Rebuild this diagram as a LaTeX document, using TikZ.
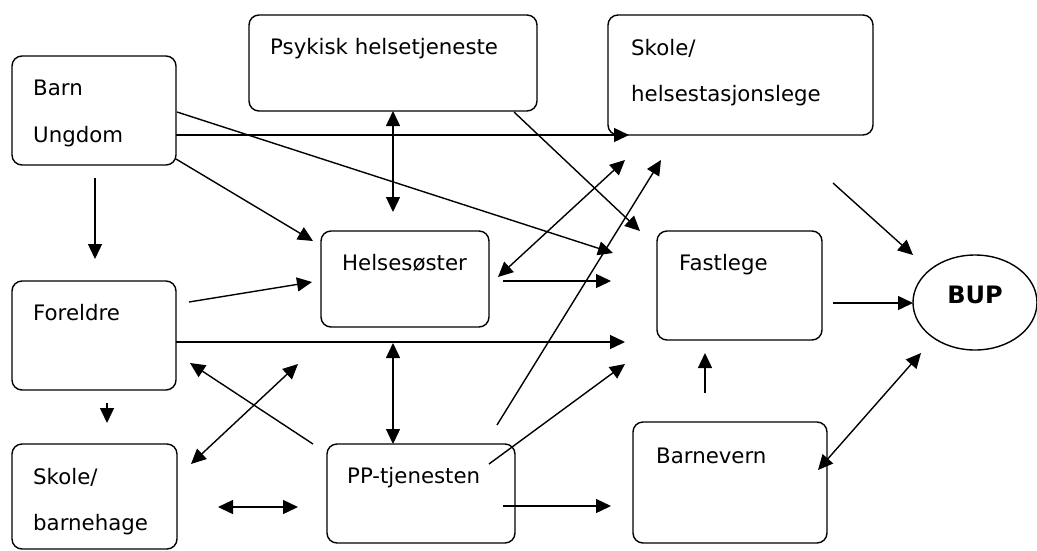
\documentclass[tikz,border=0pt]{standalone}
\usepackage{fontspec}
\setmainfont{DejaVu Sans}
\usetikzlibrary{arrows.meta,shapes.geometric}
\tikzset{
  box/.style={draw, line width=1.4pt, rounded corners=10pt, inner sep=0pt},
  lbl/.style={anchor=base west, inner sep=0pt, font=\fontsize{21.3}{25}\selectfont},
  conn/.style={line width=1.4pt, -{Triangle[length=15pt,width=14pt]}},
  dconn/.style={line width=1.4pt, {Triangle[length=15pt,width=14pt]}-{Triangle[length=15pt,width=14pt]}}
}
\begin{document}
\begin{tikzpicture}[x=1pt,y=-1pt]
\useasboundingbox (0,0) rectangle (1037,550);
% boxes
\node[box, minimum width=164pt, minimum height=109pt] (barn) at (94,110.5) {};
\node[box, minimum width=288pt, minimum height=96pt] (psyk) at (393,63) {};
\node[box, minimum width=265pt, minimum height=120pt] (skhl) at (740.5,75) {};
\node[box, minimum width=168pt, minimum height=96pt] (helse) at (405,279) {};
\node[box, minimum width=165pt, minimum height=109pt] (fast) at (739.5,285.5) {};
\node[box, minimum width=164pt, minimum height=109pt] (foreldre) at (94,335.5) {};
\node[box, minimum width=165pt, minimum height=105pt] (skbh) at (94.5,496.5) {};
\node[box, minimum width=188pt, minimum height=99pt] (pp) at (421,493.5) {};
\node[box, minimum width=194pt, minimum height=121pt] (barnevern) at (730,482.5) {};
\node[draw, ellipse, line width=1.4pt, minimum width=124pt, minimum height=95pt, inner sep=0pt] (bup) at (975,302.5) {};
% texts
\node[lbl] (tbarn) at (33,95.5) {Barn};
\node[lbl] (tungdom) at (33,142.5) {Ungdom};
\node[lbl] (tpsyk) at (270,54.5) {Psykisk helsetjeneste};
\node[lbl] (tskole1) at (631,55.5) {Skole/};
\node[lbl] (tskole2) at (631,101.5) {helsestasjonslege};
\node[lbl] (thelse) at (342,270.5) {Helsesøster};
\node[lbl] (tfast) at (679,270.5) {Fastlege};
\node[lbl] (tforeldre) at (33,320.5) {Foreldre};
\node[lbl] (tskbh1) at (33,484.5) {Skole/};
\node[lbl] (tskbh2) at (33,530.5) {barnehage};
\node[lbl] (tpp) at (347,483.5) {PP-tjenesten};
\node[lbl] (tbarnevern) at (656,463.5) {Barnevern};
\node[anchor=base, inner sep=0pt, font=\fontsize{24}{28}\selectfont\bfseries] (tbup) at (975,303.5) {BUP};
% connector endpoints
\coordinate (a1s) at (95,178);   \coordinate (a1e) at (95,259);
\coordinate (a2s) at (393,111);  \coordinate (a2e) at (393,212);
\coordinate (a3s) at (176,159);  \coordinate (a3e) at (313,241);
\coordinate (a4s) at (177,112);  \coordinate (a4e) at (613,253);
\coordinate (a5s) at (176,135);  \coordinate (a5e) at (629,135);
\coordinate (a6s) at (514,112);  \coordinate (a6e) at (640,231);
\coordinate (a7s) at (833,183);  \coordinate (a7e) at (913,255);
\coordinate (a8s) at (498,277);  \coordinate (a8e) at (625,160);
\coordinate (a9s) at (497,425);  \coordinate (a9e) at (661,160);
\coordinate (a10s) at (503,281); \coordinate (a10e) at (611,281);
\coordinate (a11s) at (189,302); \coordinate (a11e) at (312,282);
\coordinate (a12s) at (176,342); \coordinate (a12e) at (625,342);
\coordinate (a13s) at (393,343); \coordinate (a13e) at (393,444);
\coordinate (a14s) at (313,444); \coordinate (a14e) at (190,363);
\coordinate (a15s) at (191,464); \coordinate (a15e) at (298,364);
\coordinate (a16s) at (107,403); \coordinate (a16e) at (107,423);
\coordinate (a17s) at (218,507); \coordinate (a17e) at (298,507);
\coordinate (a18s) at (503,506); \coordinate (a18e) at (611,506);
\coordinate (a19s) at (489,464); \coordinate (a19e) at (625,364);
\coordinate (a20s) at (705,393); \coordinate (a20e) at (705,353);
\coordinate (a21s) at (833,303); \coordinate (a21e) at (913,303);
\coordinate (a22s) at (921,353); \coordinate (a22e) at (818,470);
% connectors
\draw[conn] (a1s) -- (a1e);
\draw[dconn] (a2s) -- (a2e);
\draw[conn] (a3s) -- (a3e);
\draw[conn] (a4s) -- (a4e);
\draw[conn] (a5s) -- (a5e);
\draw[conn] (a6s) -- (a6e);
\draw[conn] (a7s) -- (a7e);
\draw[dconn] (a8s) -- (a8e);
\draw[conn] (a9s) -- (a9e);
\draw[conn] (a10s) -- (a10e);
\draw[conn] (a11s) -- (a11e);
\draw[conn] (a12s) -- (a12e);
\draw[dconn] (a13s) -- (a13e);
\draw[conn] (a14s) -- (a14e);
\draw[dconn] (a15s) -- (a15e);
\draw[conn] (a16s) -- (a16e);
\draw[dconn] (a17s) -- (a17e);
\draw[conn] (a18s) -- (a18e);
\draw[conn] (a19s) -- (a19e);
\draw[conn] (a20s) -- (a20e);
\draw[conn] (a21s) -- (a21e);
\draw[dconn] (a22s) -- (a22e);
\end{tikzpicture}
\end{document}
